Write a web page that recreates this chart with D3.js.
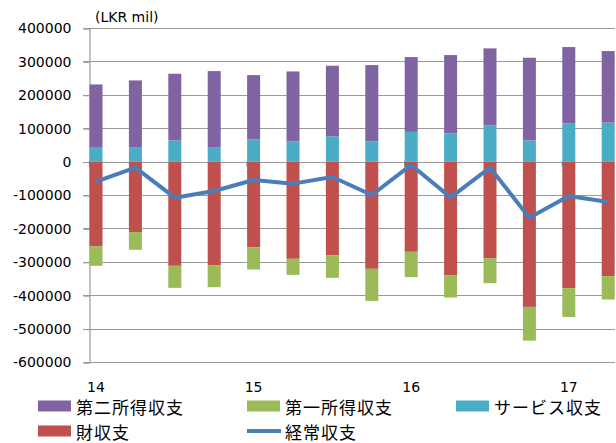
<!DOCTYPE html>
<html>
<head>
<meta charset="utf-8">
<script src="https://cdn.jsdelivr.net/npm/d3@7"></script>
<style>
    body { margin: 0; background: #fff; }
    text { font-family: "DejaVu Sans", "Noto Sans CJK JP", sans-serif; fill: #000; }
</style>
</head>
<body>
<div class="container"></div>
<script>
// quarterly balance of payments, LKR mil (2014Q1 - 2017Q2)
const quarters = ['14Q1', '14Q2', '14Q3', '14Q4', '15Q1', '15Q2', '15Q3', '15Q4',
    '16Q1', '16Q2', '16Q3', '16Q4', '17Q1', '17Q2'];
const services = [43500, 43500, 63500, 43500, 67000, 60500, 75500, 60500, 89000, 85000, 109000, 63500, 115000, 117000];
const secondaryIncome = [187500, 199500, 199500, 227500, 192000, 209500, 211500, 228500, 224000, 234000, 230000, 247500, 228000, 214000];
const goods = [-254000, -211000, -312000, -311000, -257000, -291000, -281000, -321000, -270000, -341000, -289000, -435000, -379000, -343000];
const primaryIncome = [-58000, -53000, -66000, -65000, -66000, -48000, -67000, -96000, -76000, -66000, -75000, -101000, -86000, -70000];
const currentAccount = [-60000, -18000, -108000, -88000, -55000, -66000, -46000, -100000, -10000, -107000, -18000, -168000, -103000, -121000];
const yearLabels = ['14', '15', '16', '17'];
const yearQuarters = ['14Q1', '15Q1', '16Q1', '17Q1'];
const yTicks = [400000, 300000, 200000, 100000, 0, -100000, -200000, -300000, -400000, -500000, -600000];

const w = 616;
const h = 443;
const plot = { left: 89, right: 615, top: 28, bottom: 362 };
const barWidth = 13;

const colors = {
    secondary: '#8064a2',
    primary: '#9bbb59',
    services: '#4bacc6',
    goods: '#c0504d',
    current: '#4a7ebb',
}

const rows = quarters.map((q, i) => ({
    quarter: q,
    services: services[i],
    secondary: secondaryIncome[i],
    goods: goods[i],
    primary: primaryIncome[i],
}));

const svg = d3.select('.container')
    .append('svg')
    .attr('width', w)
    .attr('height', h)

const xScale = d3.scalePoint().domain(quarters).range([96, 608.2]);
const yScale = d3.scaleLinear().domain([-600000, 400000]).range([plot.bottom, plot.top]);

// gridlines
svg.append('g')
    .selectAll('line')
    .data(yTicks)
    .join('line')
    .attr('x1', plot.left - 6)
    .attr('x2', plot.right)
    .attr('y1', d => Math.round(yScale(d)) + 0.5)
    .attr('y2', d => Math.round(yScale(d)) + 0.5)
    .attr('stroke', '#9a9a9a')
    .attr('stroke-width', 1.2);

// y axis
const yAxis = d3.axisLeft(yScale)
    .tickValues(yTicks)
    .tickFormat(d => String(d))
    .tickSize(6)
    .tickPadding(12);
const yG = svg.append('g')
    .attr('transform', `translate(${plot.left + 0.5}, 0.5)`)
    .call(yAxis);
yG.select('.domain').attr('stroke', '#9a9a9a').attr('stroke-width', 1.2);
yG.selectAll('.tick line').attr('stroke', '#9a9a9a');
yG.selectAll('.tick text')
    .style('font-size', '14px')
    .attr('fill', '#000');

svg.append('text')
    .text('(LKR mil)')
    .attr('x', 95)
    .attr('y', 22)
    .style('font-size', '14px');

// stacked bars
const stack = d3.stack()
    .keys(['services', 'secondary', 'goods', 'primary'])
    .offset(d3.stackOffsetDiverging);
const series = stack(rows);

svg.append('g')
    .selectAll('g')
    .data(series)
    .join('g')
    .attr('fill', d => colors[d.key])
    .selectAll('rect')
    .data(d => d)
    .join('rect')
    .attr('x', d => xScale(d.data.quarter) - barWidth / 2)
    .attr('width', barWidth)
    .attr('y', d => yScale(Math.max(d[0], d[1])))
    .attr('height', d => Math.abs(yScale(d[0]) - yScale(d[1])));

// year ticks on the zero line
svg.append('g')
    .selectAll('line')
    .data(yearQuarters)
    .join('line')
    .attr('x1', d => xScale(d) - barWidth / 2)
    .attr('x2', d => xScale(d) - barWidth / 2)
    .attr('y1', yScale(0))
    .attr('y2', yScale(0) + 5)
    .attr('stroke', '#777')
    .attr('stroke-width', 1.2);

// current account line
const line = d3.line()
    .x((d, i) => xScale(quarters[i]))
    .y(d => yScale(d));
svg.append('path')
    .datum(currentAccount)
    .attr('d', line)
    .attr('fill', 'none')
    .attr('stroke', colors.current)
    .attr('stroke-width', 4)
    .attr('stroke-linejoin', 'round');

// x labels
svg.append('g')
    .selectAll('text')
    .data(yearLabels)
    .join('text')
    .text(d => d)
    .attr('x', (d, i) => xScale(yearQuarters[i]))
    .attr('y', 392)
    .attr('text-anchor', 'middle')
    .style('font-size', '14px');

// legend
const legendItems = [
    { name: '第二所得収支', key: 'secondary', x: 38, y: 406 },
    { name: '第一所得収支', key: 'primary', x: 247, y: 406 },
    { name: 'サービス収支', key: 'services', x: 456, y: 406 },
    { name: '財収支', key: 'goods', x: 38, y: 431 },
    { name: '経常収支', key: 'current', x: 247, y: 431, isLine: true },
];

const legend = svg.append('g')
    .selectAll('g')
    .data(legendItems)
    .join('g')
    .attr('transform', d => `translate(${d.x}, ${d.y})`);

legend.filter(d => !d.isLine)
    .append('rect')
    .attr('x', 0)
    .attr('y', -5.5)
    .attr('width', 33)
    .attr('height', 11)
    .attr('fill', d => colors[d.key]);

legend.filter(d => d.isLine)
    .append('line')
    .attr('x1', 0)
    .attr('x2', 34)
    .attr('y1', 0)
    .attr('y2', 0)
    .attr('stroke', colors.current)
    .attr('stroke-width', 4);

legend.append('text')
    .text(d => d.name)
    .attr('x', 38)
    .attr('y', 0)
    .attr('dominant-baseline', 'central')
    .style('font-family', '"Noto Sans CJK JP", sans-serif')
    .style('font-size', '17px')
    .style('letter-spacing', '1px');
</script>
</body>
</html>
